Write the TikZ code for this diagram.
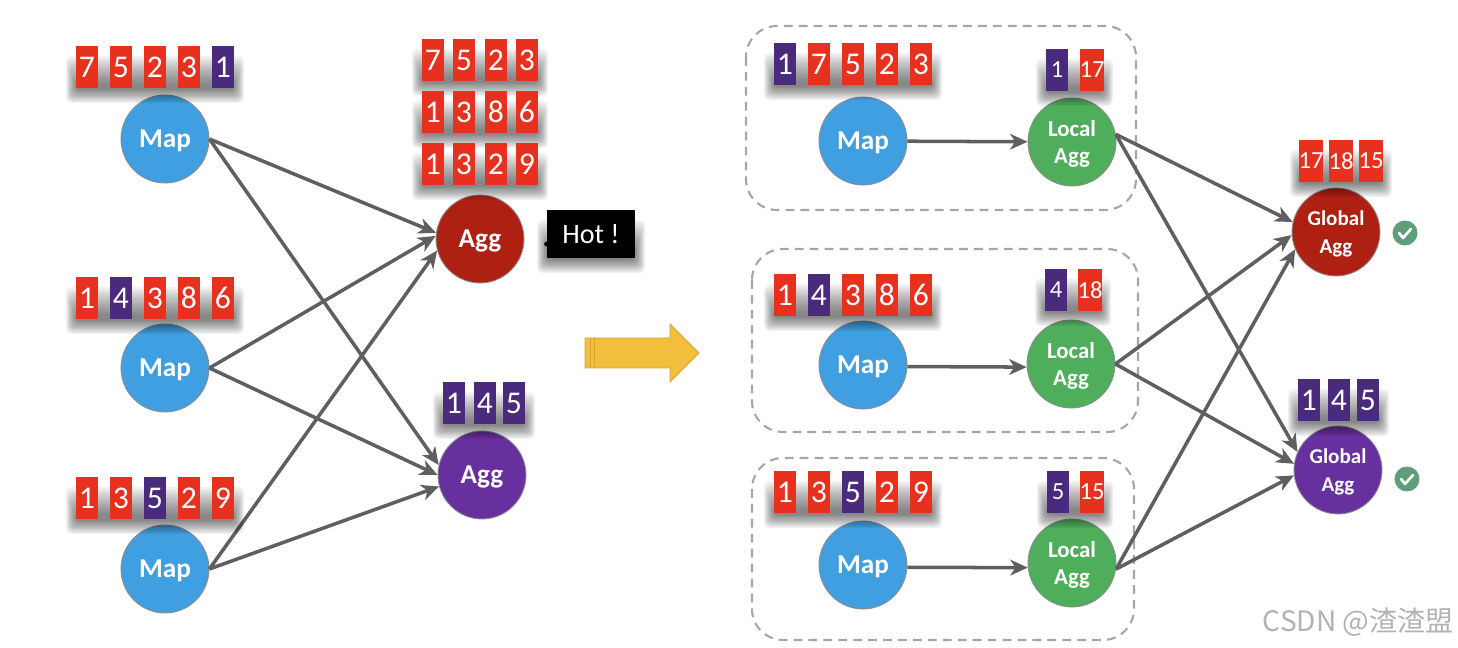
\documentclass[tikz,border=0pt]{standalone}
\usepackage{fontspec}
\setmainfont{Carlito}
\newfontfamily\cjk{Noto Sans CJK SC}
\usetikzlibrary{arrows.meta,positioning,calc}
\definecolor{tilered}{HTML}{E8301F}
\definecolor{tilepurple}{HTML}{4A2A7C}
\definecolor{mapblue}{HTML}{3F9FE0}
\definecolor{localgreen}{HTML}{4FAE5C}
\definecolor{aggred}{HTML}{AE2012}
\definecolor{aggpurple}{HTML}{682F9E}
\definecolor{linegray}{HTML}{5F5F5F}
\definecolor{okgreen}{HTML}{5E9F7A}
\definecolor{arrowfill}{HTML}{F3BE3C}
\definecolor{arrowline}{HTML}{D9A532}
\newcommand{\softrow}[4]{\foreach \k in {0,...,11}
  \fill[black,opacity=.05,rounded corners=3pt] (#1-10+\k*.9,#3+10+\k*2.5) rectangle (#2+10-\k*.9,#4+15-\k*1.2);}
\tikzset{
  tilebase/.style={minimum width=.44cm,minimum height=.84cm,inner sep=0,text=white,font=\fontsize{18}{18}\selectfont},
  red/.style={tilebase,fill=tilered},
  pur/.style={tilebase,fill=tilepurple},
  small/.style={font=\fontsize{14}{14}\selectfont},
  ball/.style={circle,minimum size=1.76cm,inner sep=0,text depth=0pt,draw=black!45,line width=.5pt,text=white,align=center,
    font=\bfseries\fontsize{15.5}{15.5}\selectfont},
  twoline/.style={font=\bfseries\fontsize{13}{15.5}\selectfont},
  threeline/.style={font=\bfseries\fontsize{12}{15.5}\selectfont},
  flow/.style={-{Stealth[length=10pt,width=9pt,inset=3pt]},line width=2pt,linegray},
  group/.style={draw=black!35,line width=1.2pt,dash pattern=on 5pt off 3.5pt,rounded corners=.62cm},
  okmark/.style={circle,fill=okgreen,minimum size=.5cm,inner sep=0},
}
\begin{document}
\begin{tikzpicture}[x=.02cm,y=-.02cm]
\useasboundingbox (0,0) rectangle (1458,648);
\node[font=\cjk\fontsize{16}{16}\selectfont,text=black!30,anchor=east,inner sep=0] (mark) at (1454,622) {CSDN @渣渣盟};
% before
\node[ball,fill=mapblue] (mapa) at (165,139){Map};
\node[ball,fill=mapblue] (mapb) at (165,368){Map};
\node[ball,fill=mapblue] (mapc) at (165,569){Map};
\node[ball,fill=aggred] (hotagg) at (480,239){Agg};
\node[ball,fill=aggpurple] (coldagg) at (482,475){Agg};
\draw[flow] (mapa.east)--(hotagg.172);
\draw[flow] (mapb.east)--(hotagg.176);
\draw[flow] (mapc.east)--(hotagg.195);
\draw[flow] (mapa.east)--(coldagg.167);
\draw[flow] (mapb.east)--(coldagg.180);
\draw[flow] (mapc.east)--(coldagg.195);
\softrow{76}{234}{46}{88}\softrow{76}{234}{277}{319}\softrow{76}{234}{477}{519}
\softrow{422}{538}{39}{81}\softrow{422}{538}{91}{133}\softrow{422}{538}{143}{185}
\softrow{443}{525}{382}{424}\softrow{547}{635}{210}{258}
\foreach \x/\v/\s[count=\i] in {87/7/red,121/5/red,155/2/red,189/3/red,223/1/pur}
  \node[\s] (la\i) at(\x,67){\v};
\foreach \x/\v/\s[count=\i] in {87/1/red,121/4/pur,155/3/red,189/8/red,223/6/red}
  \node[\s] (lb\i) at(\x,298){\v};
\foreach \x/\v/\s[count=\i] in {87/1/red,121/3/red,155/5/pur,189/2/red,223/9/red}
  \node[\s] (lc\i) at(\x,498){\v};
\foreach \x/\v[count=\i] in {433/7,464/5,496/2,527/3}
  \node[red] (ha\i) at(\x,60){\v};
\foreach \x/\v[count=\i] in {433/1,464/3,496/8,527/6}
  \node[red] (hb\i) at(\x,112){\v};
\foreach \x/\v[count=\i] in {433/1,464/3,496/2,527/9}
  \node[red] (hc\i) at(\x,164){\v};
\foreach \x/\v[count=\i] in {454/1,485/4,514/5}
  \node[pur] (ca\i) at(\x,403){\v};
\node[fill=black,text=white,minimum width=1.76cm,minimum height=.96cm,inner sep=0,font=\fontsize{16}{16}\selectfont] (hot) at (591,234){Hot !};
\fill (hot.west|-0,244) circle(2.5);
% arrow
\draw[fill=arrowfill,draw=arrowline,line width=.5pt]
  (585,338)--(670,338)--(670,324)--(699,353)--(670,382)--(670,368)--(585,368)--cycle;
\draw[arrowline,line width=.5pt] (590,338)--(590,368) (594,338)--(594,368);
% after
\draw[group] (746,26) rectangle (1136,210);
\draw[group] (752,249) rectangle (1138,432);
\draw[group] (752,458) rectangle (1134,640);
\node[ball,fill=mapblue] (ma) at (863,141){Map};
\node[ball,fill=mapblue] (mb) at (863,365){Map};
\node[ball,fill=mapblue] (mc) at (863,565){Map};
\node[ball,twoline,fill=localgreen] (loca) at (1072,142){Local\\Agg};
\node[ball,twoline,fill=localgreen] (locb) at (1071,364){Local\\Agg};
\node[ball,twoline,fill=localgreen] (locc) at (1072,563){Local\\Agg};
\node[ball,threeline,fill=aggred] (gloa) at (1336,232){Global\\Agg};
\node[ball,threeline,fill=aggpurple] (glob) at (1338,470){Global\\Agg};
\draw[flow] (ma)--(loca);
\draw[flow] (mb.-2)--(locb.184);
\draw[flow] (mc.-3)--(locc.186);
\draw[flow] (loca.10)--(gloa.167);
\draw[flow] (locb.east)--(gloa.184);
\draw[flow] (locc.-8)--(gloa.203);
\draw[flow] (loca.10)--(glob.156);
\draw[flow] (locb.east)--(glob.172);
\draw[flow] (locc.-8)--(glob.187);
\softrow{774}{932}{43}{85}\softrow{774}{932}{274}{316}\softrow{774}{932}{471}{513}
\softrow{1046}{1103}{49}{91}\softrow{1045}{1101}{269}{311}\softrow{1047}{1103}{471}{513}
\softrow{1300}{1382}{140}{182}\softrow{1298}{1379}{379}{421}
\foreach \x/\v/\s[count=\i] in {785/1/pur,819/7/red,853/5/red,887/2/red,921/3/red}
  \node[\s] (ra\i) at(\x,64){\v};
\foreach \x/\v/\s[count=\i] in {785/1/red,819/4/pur,853/3/red,887/8/red,921/6/red}
  \node[\s] (rb\i) at(\x,295){\v};
\foreach \x/\v/\s[count=\i] in {785/1/red,819/3/red,853/5/pur,887/2/red,921/9/red}
  \node[\s] (rc\i) at(\x,492){\v};
\node[pur,small] (sa) at(1057,70){1};
\node[red,small] (ta) at(1092,70){17};
\node[pur,small] (sb) at(1056,290){4};
\node[red,small] (tb) at(1090,290){18};
\node[pur,small] (sc) at(1058,492){5};
\node[red,small] (tc) at(1092,492){15};
\foreach \x/\v[count=\i] in {1311/17,1341/18,1371/15}
  \node[red,small] (ga\i) at(\x,161){\v};
\foreach \x/\v[count=\i] in {1309/1,1339/4,1368/5}
  \node[pur] (gb\i) at(\x,400){\v};
% checks
\node[okmark] (oka) at (1405,233){};
\node[okmark] (okb) at (1407,479){};
\foreach \n in {oka,okb}
  \draw[white,line width=1.5pt,line cap=round,line join=round] ($(\n)+(-6,0)$)--($(\n)+(-2,5)$)--($(\n)+(6,-4)$);
\end{tikzpicture}
\end{document}
